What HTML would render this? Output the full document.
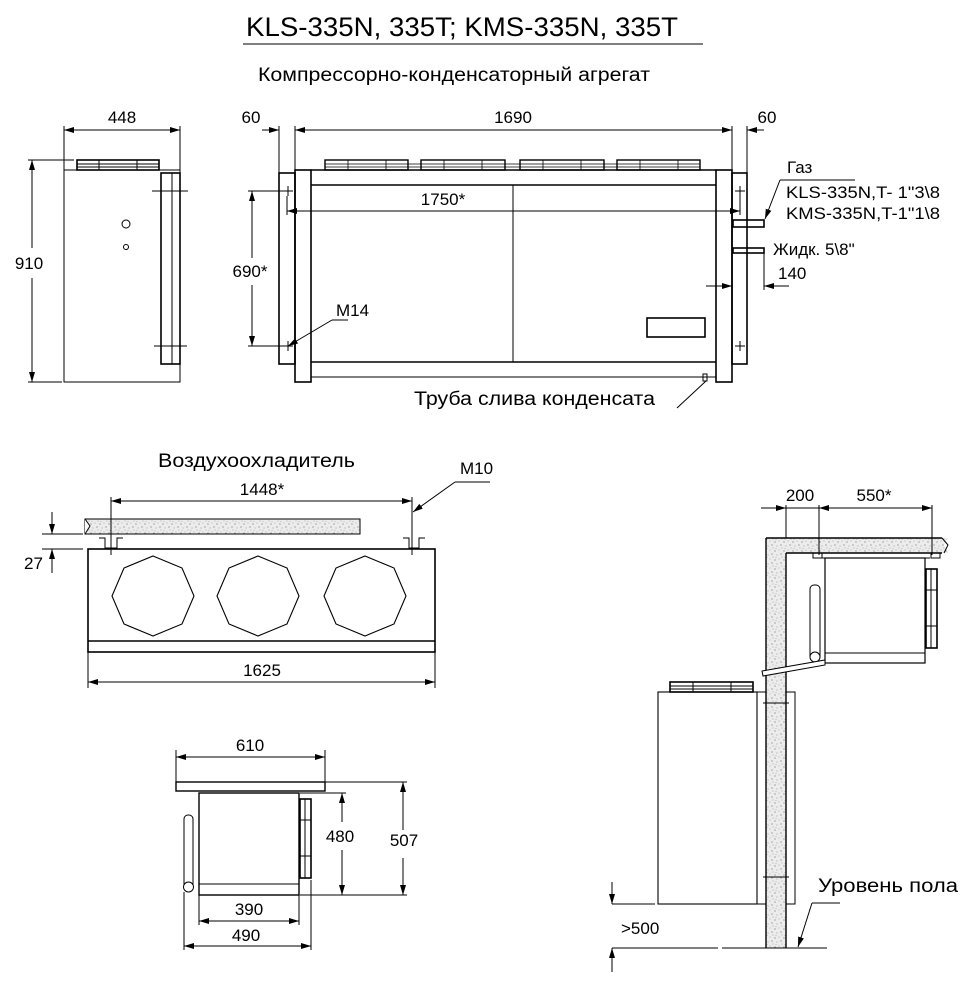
<!DOCTYPE html>
<html><head><meta charset="utf-8"><style>
html,body{margin:0;padding:0;background:#fff;}
svg{display:block;}
text{font-family:"Liberation Sans","Noto Sans CJK SC",sans-serif;fill:#000;}
</style></head><body>
<svg width="975" height="988" viewBox="0 0 975 988" xmlns="http://www.w3.org/2000/svg">
<defs>
<pattern id="sp" width="9" height="9" patternUnits="userSpaceOnUse">
<rect width="9" height="9" fill="#ececec"/>
<circle cx="1" cy="2" r="0.6" fill="#777"/><circle cx="5" cy="1" r="0.5" fill="#999"/>
<circle cx="7" cy="5" r="0.6" fill="#777"/><circle cx="3" cy="6" r="0.5" fill="#888"/>
<circle cx="8" cy="8" r="0.5" fill="#999"/><circle cx="2" cy="8.5" r="0.4" fill="#777"/>
</pattern>
<marker id="a" viewBox="0 0 10 6" refX="10" refY="3" markerWidth="10" markerHeight="6" orient="auto-start-reverse" markerUnits="userSpaceOnUse"><path d="M0,0 L10,3 L0,6 z" fill="#000"/></marker>
</defs>
<g stroke="#000" fill="none" stroke-width="1">

<line x1="243" y1="44" x2="703" y2="44"/>

<!-- Left side view -->
<rect x="64" y="170" width="116" height="212"/>
<rect x="77" y="160" width="82" height="10" stroke-width="1.6"/>
<line x1="77" y1="164" x2="159" y2="164"/><line x1="77" y1="167" x2="159" y2="167"/>
<line x1="99" y1="160" x2="99" y2="170"/><line x1="137" y1="160" x2="137" y2="170"/>
<rect x="161" y="173" width="19" height="191" stroke-width="1.6"/>
<line x1="172" y1="173" x2="172" y2="364"/>
<line x1="152" y1="191" x2="188" y2="191"/><line x1="154" y1="346" x2="187" y2="346"/>
<circle cx="126" cy="224" r="4"/><circle cx="126" cy="247" r="2.5"/>
<line x1="64" y1="126" x2="64" y2="170"/><line x1="180" y1="126" x2="180" y2="170"/>
<line x1="64" y1="130" x2="180" y2="130" marker-start="url(#a)" marker-end="url(#a)"/>
<line x1="28" y1="160" x2="74" y2="160"/><line x1="28" y1="382" x2="62" y2="382"/>
<line x1="32" y1="160" x2="32" y2="248" marker-start="url(#a)"/>
<line x1="32" y1="278" x2="32" y2="382" marker-end="url(#a)"/>

<!-- Front view -->
<rect x="279" y="173" width="16" height="191" stroke-width="1.6"/>
<rect x="295" y="170" width="16" height="212" stroke-width="1.6"/>
<rect x="716" y="170" width="16" height="212" stroke-width="1.6"/>
<rect x="732" y="173" width="15" height="191" stroke-width="1.6"/>
<line x1="311" y1="170" x2="716" y2="170" stroke-width="1.6"/>
<line x1="311" y1="185" x2="716" y2="185" stroke-width="1.6"/>
<line x1="311" y1="362" x2="716" y2="362" stroke-width="1.6"/>
<line x1="311" y1="377" x2="716" y2="377"/>
<line x1="513" y1="185" x2="513" y2="362"/>
<g stroke-width="1.4">
<rect x="325" y="160" width="83" height="10"/><rect x="421" y="160" width="84" height="10"/>
<rect x="520" y="160" width="84" height="10"/><rect x="617" y="160" width="83" height="10"/>
</g>
<g stroke-width="0.8">
<line x1="325" y1="164" x2="700" y2="164"/><line x1="325" y1="167" x2="700" y2="167"/>
<line x1="348" y1="160" x2="348" y2="170"/><line x1="386" y1="160" x2="386" y2="170"/>
<line x1="444" y1="160" x2="444" y2="170"/><line x1="482" y1="160" x2="482" y2="170"/>
<line x1="543" y1="160" x2="543" y2="170"/><line x1="581" y1="160" x2="581" y2="170"/>
<line x1="640" y1="160" x2="640" y2="170"/><line x1="678" y1="160" x2="678" y2="170"/>
</g>
<rect x="647" y="318" width="58" height="19" stroke-width="1.6"/>
<path d="M283,191h10M288,186v10M283,346h10M288,341v10M735,191h10M740,186v10M735,346h10M740,341v10"/>
<line x1="279" y1="126" x2="279" y2="173"/><line x1="295" y1="126" x2="295" y2="170"/>
<line x1="732" y1="126" x2="732" y2="170"/><line x1="747" y1="126" x2="747" y2="173"/>
<line x1="262" y1="130" x2="279" y2="130" marker-end="url(#a)"/>
<line x1="295" y1="130" x2="732" y2="130" marker-start="url(#a)" marker-end="url(#a)"/>
<line x1="747" y1="130" x2="764" y2="130" marker-start="url(#a)"/>
<line x1="287" y1="196" x2="287" y2="215"/><line x1="740" y1="196" x2="740" y2="215"/>
<line x1="287" y1="211" x2="740" y2="211" marker-start="url(#a)" marker-end="url(#a)"/>
<line x1="248" y1="191" x2="288" y2="191"/><line x1="248" y1="346" x2="288" y2="346"/>
<line x1="252" y1="191" x2="252" y2="258" marker-start="url(#a)"/>
<line x1="252" y1="285" x2="252" y2="346" marker-end="url(#a)"/>
<path d="M348,320H332"/><line x1="332" y1="320" x2="288" y2="346" marker-end="url(#a)"/>
<rect x="733" y="220" width="31" height="7" stroke-width="1.6"/>
<rect x="733" y="248" width="31" height="5" stroke-width="1.6"/>
<path d="M855,180H780"/><line x1="780" y1="180" x2="765" y2="219" marker-end="url(#a)"/>
<line x1="764" y1="253" x2="764" y2="290"/>
<line x1="706" y1="286" x2="732" y2="286" marker-end="url(#a)"/>
<line x1="789" y1="286" x2="764" y2="286" marker-end="url(#a)"/>
<rect x="703" y="374" width="4" height="7"/>
<line x1="706" y1="381" x2="677" y2="408"/>

<!-- Evaporator front -->
<rect x="85" y="519" width="275" height="15" fill="url(#sp)"/>
<path d="M85,519 L90,526 L85,534" fill="#fff" stroke="none"/>
<path d="M85,519 L90,526 L85,534"/>
<rect x="88" y="549" width="347" height="103" stroke-width="1.6"/>
<line x1="88" y1="641" x2="435" y2="641" stroke-width="1.6"/>
<g stroke-width="1.1">
<polygon points="153,556 182,568 194,596 182,624 153,636 124,624 112,596 124,568"/>
<polygon points="258,556 287,568 299,596 287,624 258,636 229,624 217,596 229,568"/>
<polygon points="365,556 394,568 406,596 394,624 365,636 336,624 324,596 336,568"/>
</g>
<path d="M99,538H105V548H117V538H123M403,538H409V548H419V538H425"/>
<line x1="111" y1="497" x2="111" y2="555"/><line x1="412" y1="497" x2="412" y2="555"/>
<line x1="111" y1="501" x2="412" y2="501" marker-start="url(#a)" marker-end="url(#a)"/>
<path d="M490,482H455"/><line x1="455" y1="482" x2="413" y2="512" marker-end="url(#a)"/>
<line x1="42" y1="534" x2="83" y2="534"/><line x1="42" y1="549" x2="83" y2="549"/>
<line x1="52" y1="512" x2="52" y2="534" marker-end="url(#a)"/>
<line x1="52" y1="573" x2="52" y2="549" marker-end="url(#a)"/>
<line x1="88" y1="652" x2="88" y2="688"/><line x1="435" y1="652" x2="435" y2="688"/>
<line x1="88" y1="682" x2="435" y2="682" marker-start="url(#a)" marker-end="url(#a)"/>

<!-- Evaporator side -->
<rect x="176" y="782" width="149" height="9" stroke-width="1.4"/>
<rect x="199" y="793" width="100" height="102" stroke-width="1.4"/>
<line x1="199" y1="884" x2="299" y2="884"/>
<rect x="300" y="799" width="11" height="79" stroke-width="1.6"/>
<line x1="305" y1="799" x2="305" y2="878"/>
<line x1="300" y1="820" x2="311" y2="820"/><line x1="300" y1="856" x2="311" y2="856"/>
<rect x="184" y="815" width="9" height="75" rx="4"/>
<circle cx="188.5" cy="887" r="5" fill="#fff"/>
<line x1="176" y1="750" x2="176" y2="782"/><line x1="325" y1="750" x2="325" y2="782"/>
<line x1="176" y1="757" x2="325" y2="757" marker-start="url(#a)" marker-end="url(#a)"/>
<line x1="300" y1="793" x2="346" y2="793"/><line x1="325" y1="782" x2="407" y2="782"/>
<line x1="300" y1="895" x2="407" y2="895"/>
<line x1="342" y1="793" x2="342" y2="822" marker-start="url(#a)"/>
<line x1="342" y1="850" x2="342" y2="895" marker-end="url(#a)"/>
<line x1="403" y1="782" x2="403" y2="830" marker-start="url(#a)"/>
<line x1="403" y1="858" x2="403" y2="895" marker-end="url(#a)"/>
<line x1="199" y1="895" x2="199" y2="925"/><line x1="299" y1="895" x2="299" y2="925"/>
<line x1="184" y1="892" x2="184" y2="950"/><line x1="311" y1="880" x2="311" y2="950"/>
<line x1="199" y1="921" x2="299" y2="921" marker-start="url(#a)" marker-end="url(#a)"/>
<line x1="184" y1="946" x2="311" y2="946" marker-start="url(#a)" marker-end="url(#a)"/>

<!-- Installation view -->
<rect x="766" y="538" width="20" height="410" fill="url(#sp)" stroke="none"/>
<path d="M786,538 H948 L944,545 L948,553 H786 Z" fill="url(#sp)" stroke="none"/>
<path d="M766,538 V948 M786,553 V948 M766,538 H942 M786,553 H942" stroke-width="1.4"/>
<path d="M942,538 L948,545 L944,553"/>
<rect x="813" y="553" width="9" height="5"/><rect x="931" y="553" width="9" height="5"/>
<path d="M822,558 H930"/>
<rect x="825" y="558" width="100" height="105" stroke-width="1.2"/>
<line x1="825" y1="653" x2="925" y2="653"/>
<rect x="926" y="569" width="11" height="79" stroke-width="1.6"/>
<line x1="931" y1="569" x2="931" y2="648"/>
<line x1="926" y1="590" x2="937" y2="590"/><line x1="926" y1="626" x2="937" y2="626"/>
<rect x="810" y="585" width="10" height="75" rx="4"/>
<circle cx="815" cy="657" r="5" fill="#fff"/>
<path d="M762,671 L825,660 L825,665 L763,676 Z" fill="#fff"/>
<rect x="658" y="692" width="99" height="212" stroke-width="1.1"/>
<rect x="670" y="682" width="83" height="10" stroke-width="1.6"/>
<line x1="670" y1="686" x2="753" y2="686"/><line x1="670" y1="689" x2="753" y2="689"/>
<line x1="693" y1="682" x2="693" y2="692"/><line x1="731" y1="682" x2="731" y2="692"/>
<path d="M757,692 H766 M786,692 H795 V904 H786 M757,904 H766"/>
<line x1="763" y1="703" x2="789" y2="703"/><line x1="763" y1="877" x2="789" y2="877"/>
<line x1="612" y1="948" x2="718" y2="948"/><line x1="722" y1="948" x2="827" y2="948"/>
<line x1="612" y1="904" x2="655" y2="904"/>
<line x1="612" y1="882" x2="612" y2="904" marker-end="url(#a)"/>
<line x1="612" y1="972" x2="612" y2="948" marker-end="url(#a)"/>
<path d="M840,903H812"/><line x1="812" y1="903" x2="798" y2="947" marker-end="url(#a)"/>
<line x1="786" y1="505" x2="786" y2="538"/><line x1="819" y1="505" x2="819" y2="555"/><line x1="932" y1="505" x2="932" y2="555"/>
<line x1="761" y1="508" x2="786" y2="508" marker-end="url(#a)"/>
<line x1="819" y1="508" x2="932" y2="508" marker-start="url(#a)" marker-end="url(#a)"/>
<line x1="786" y1="508" x2="819" y2="508"/>
</g>

<g font-size="17">
<text x="246" y="36" font-size="27" textLength="432" lengthAdjust="spacingAndGlyphs">KLS-335N, 335T; KMS-335N, 335T</text>
<text x="258" y="81" font-size="19" textLength="392" lengthAdjust="spacingAndGlyphs">Компрессорно-конденсаторный агрегат</text>
<text x="122" y="123" text-anchor="middle">448</text>
<text x="29" y="269" text-anchor="middle">910</text>
<text x="251" y="123" text-anchor="middle">60</text>
<text x="513" y="123" text-anchor="middle">1690</text>
<text x="767" y="123" text-anchor="middle">60</text>
<text x="443" y="205" text-anchor="middle">1750*</text>
<text x="250" y="277" text-anchor="middle">690*</text>
<text x="336" y="316">M14</text>
<text x="787" y="173">Газ</text>
<text x="786" y="198" textLength="154" lengthAdjust="spacingAndGlyphs">KLS-335N,T- 1"3\8</text>
<text x="786" y="219" textLength="154" lengthAdjust="spacingAndGlyphs">KMS-335N,T-1"1\8</text>
<text x="773" y="255">Жидк. 5\8"</text>
<text x="778" y="279">140</text>
<text x="414" y="405" font-size="19" textLength="241" lengthAdjust="spacingAndGlyphs">Труба слива конденсата</text>
<text x="158" y="467" font-size="19" textLength="197" lengthAdjust="spacingAndGlyphs">Воздухоохладитель</text>
<text x="460" y="474">M10</text>
<text x="262" y="495" text-anchor="middle">1448*</text>
<text x="24" y="569">27</text>
<text x="262" y="676" text-anchor="middle">1625</text>
<text x="250" y="751" text-anchor="middle">610</text>
<text x="340" y="842" text-anchor="middle">480</text>
<text x="404" y="846" text-anchor="middle">507</text>
<text x="249" y="915" text-anchor="middle">390</text>
<text x="246" y="941" text-anchor="middle">490</text>
<text x="800" y="501" text-anchor="middle">200</text>
<text x="874" y="501" text-anchor="middle">550*</text>
<text x="818" y="892" font-size="19" textLength="140" lengthAdjust="spacingAndGlyphs">Уровень  пола</text>
<text x="621" y="934">&gt;500</text>
</g>
</svg>
</body></html>
